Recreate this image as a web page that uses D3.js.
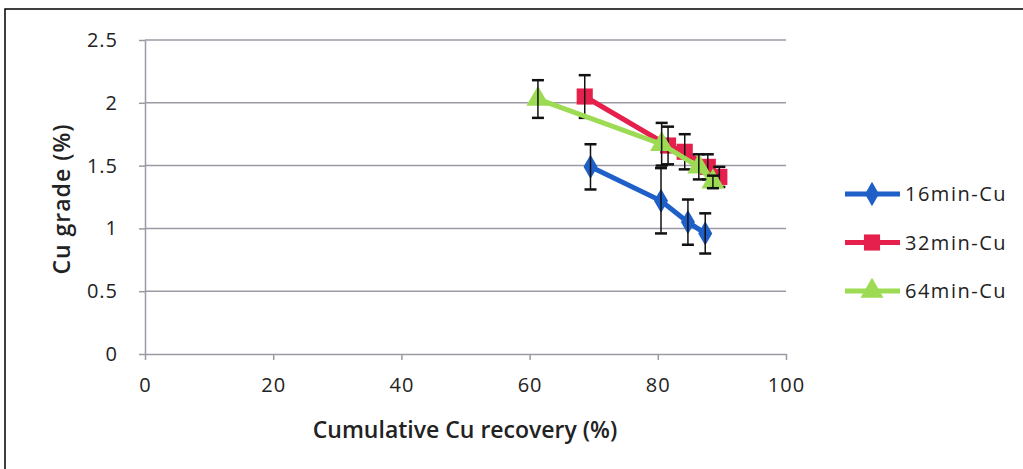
<!DOCTYPE html>
<html>
<head>
<meta charset="utf-8">
<script src="https://cdn.jsdelivr.net/npm/d3@7"></script>
<style>
  html, body { margin: 0; padding: 0; background: #fff; }
  svg { display: block; font-family: "Open Sans", sans-serif; }
</style>
</head>
<body>
<svg id="chart" width="1023" height="469"></svg>
<script>
// Grade–recovery data per flotation time
const xTicks = [0, 20, 40, 60, 80, 100];
const yTicks = [0, 0.5, 1, 1.5, 2, 2.5];

const rec16 = [69.5, 80.5, 84.7, 87.4];
const grade16 = [1.49, 1.22, 1.05, 0.96];
const err16 = [0.18, 0.26, 0.18, 0.16];

const rec32 = [68.6, 81.6, 84.2, 87.8, 89.6];
const grade32 = [2.05, 1.66, 1.61, 1.49, 1.41];
const err32 = [0.17, 0.15, 0.14, 0.10, 0.08];

const rec64 = [61.3, 80.6, 86.4, 88.6];
const grade64 = [2.03, 1.67, 1.49, 1.37];
const err64 = [0.15, 0.17, 0.10, 0.05];

const seriesNames = ["16min-Cu", "32min-Cu", "64min-Cu"];
const seriesColors = ["#1f5fc8", "#e5204c", "#9ddb55"];
const seriesSymbols = [d3.symbolDiamond, d3.symbolSquare, d3.symbolTriangle];
const symbolSizes = [170, 260, 230];

const series = [
  { rec: rec16, grade: grade16, err: err16 },
  { rec: rec32, grade: grade32, err: err32 },
  { rec: rec64, grade: grade64, err: err64 }
].map((s, i) => ({
  name: seriesNames[i],
  color: seriesColors[i],
  symbol: seriesSymbols[i],
  size: symbolSizes[i],
  points: s.rec.map((r, j) => ({ x: r, y: s.grade[j], e: s.err[j] }))
}));

const svg = d3.select("#chart");
const font = "'Open Sans', sans-serif";

// Outer frame
svg.append("path")
  .attr("d", "M5,469 V9 H1023")
  .attr("fill", "none").attr("stroke", "#000").attr("stroke-width", 1.5);

const x = d3.scaleLinear().domain([0, 100]).range([145, 786]);
const y = d3.scaleLinear().domain([0, 2.5]).range([354, 40]);

// Horizontal gridlines
svg.append("g")
  .selectAll("line")
  .data(yTicks.filter(t => t > 0))
  .join("line")
  .attr("x1", x(0)).attr("x2", x(100))
  .attr("y1", d => y(d)).attr("y2", d => y(d))
  .attr("stroke", "#9a9aa4").attr("stroke-width", 1.5);

// Axes
const xAxis = svg.append("g")
  .attr("transform", `translate(0,${y(0)})`)
  .call(d3.axisBottom(x).tickValues(xTicks).tickSize(6).tickSizeOuter(0).tickPadding(18));
const yAxis = svg.append("g")
  .attr("transform", `translate(${x(0)},0)`)
  .call(d3.axisLeft(y).tickValues(yTicks).tickSize(6).tickSizeOuter(0).tickPadding(21).tickFormat(d3.format("")));

[xAxis, yAxis].forEach(a => {
  a.select(".domain").attr("stroke", "#9a9aa4").attr("stroke-width", 1.5);
  a.selectAll(".tick line").attr("stroke", "#9a9aa4").attr("stroke-width", 1.5);
  a.selectAll(".tick text").attr("fill", "#222").attr("font-size", 20)
    .attr("letter-spacing", 1)
    .attr("font-family", font);
});

// Axis titles
svg.append("text")
  .attr("x", 465).attr("y", 438)
  .attr("text-anchor", "middle")
  .attr("font-size", 23).attr("font-weight", 600).attr("fill", "#222")
  .text("Cumulative Cu recovery (%)");

svg.append("text")
  .attr("transform", `translate(70,${y(1.25) + 2}) rotate(-90)`)
  .attr("text-anchor", "middle")
  .attr("font-size", 23).attr("font-weight", 600).attr("fill", "#222")
  .attr("letter-spacing", 1)
  .text("Cu grade (%)");

const line = d3.line().x(d => x(d.x)).y(d => y(d.y));

series.forEach(s => {
  const g = svg.append("g");
  g.append("path")
    .datum(s.points)
    .attr("d", line)
    .attr("fill", "none")
    .attr("stroke", s.color)
    .attr("stroke-width", 5);

  g.selectAll(".mk")
    .data(s.points)
    .join("path")
    .attr("class", "mk")
    .attr("transform", d => `translate(${x(d.x)},${y(d.y)})`)
    .attr("d", d3.symbol().type(s.symbol).size(s.size))
    .attr("fill", s.color);

  // Error bars
  const eb = g.selectAll(".eb").data(s.points).join("g").attr("class", "eb");
  eb.append("line")
    .attr("x1", d => x(d.x)).attr("x2", d => x(d.x))
    .attr("y1", d => y(d.y + d.e)).attr("y2", d => y(d.y - d.e))
    .attr("stroke", "#111").attr("stroke-width", 1.5);
  [1, -1].forEach(sg => {
    eb.append("line")
      .attr("x1", d => x(d.x) - 6).attr("x2", d => x(d.x) + 6)
      .attr("y1", d => y(d.y + sg * d.e)).attr("y2", d => y(d.y + sg * d.e))
      .attr("stroke", "#111").attr("stroke-width", 2.5);
  });
});

// Legend
const legend = svg.append("g");
series.forEach((s, i) => {
  const ly = 194 + i * 48.5;
  legend.append("line")
    .attr("x1", 845).attr("x2", 900).attr("y1", ly).attr("y2", ly)
    .attr("stroke", s.color).attr("stroke-width", 5);
  legend.append("path")
    .attr("transform", `translate(872,${ly})`)
    .attr("d", d3.symbol().type(s.symbol).size(s.size))
    .attr("fill", s.color);
  legend.append("text")
    .attr("x", 905).attr("y", ly + 7)
    .attr("font-size", 20).attr("fill", "#222")
    .attr("letter-spacing", 1.5)
    .attr("font-family", font)
    .text(s.name);
});
</script>
</body>
</html>
